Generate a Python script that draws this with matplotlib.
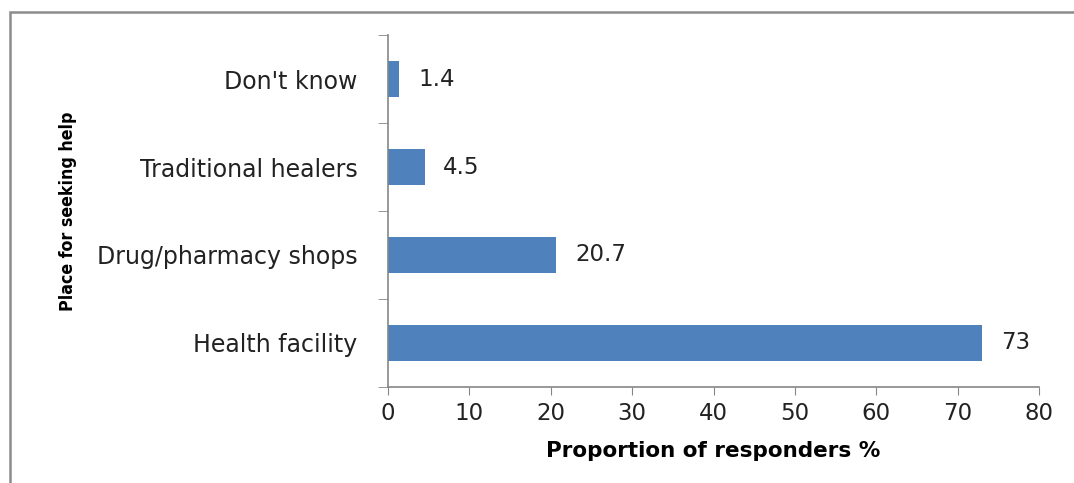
import matplotlib.pyplot as plt
from matplotlib.patches import Rectangle

places = ["Health facility", "Drug/pharmacy shops", "Traditional healers", "Don't know"]
share = [73, 20.7, 4.5, 1.4]
share_labels = ["73", "20.7", "4.5", "1.4"]
x_ticks = [0, 10, 20, 30, 40, 50, 60, 70, 80]

plt.rcParams['font.family'] = ['DejaVu Sans']

fig = plt.figure(figsize=(10.74, 4.83), dpi=100)
fig.patches.append(Rectangle((0.009, -0.05), 1.05, 1.025, transform=fig.transFigure,
                             fill=False, edgecolor="#8c8c8c", linewidth=1.8))
ax = fig.add_axes([0.3613, 0.1988, 0.6061, 0.7287])

y = list(range(len(places)))
ax.barh(y, share, height=0.4, color="#4f81bd")
for yi, v, lab in zip(y, share, share_labels):
    ax.text(v + 2.3, yi, lab, va="center", ha="left", fontsize=16.5, color="#222222")

ax.set_xlim(0, 80)
ax.set_ylim(-0.5, 3.5)
ax.set_xticks(x_ticks)
ax.set_xticklabels([str(t) for t in x_ticks], fontsize=16.5, color="#222222")
ax.set_yticks(y)
ax.set_yticklabels(places, fontsize=17, color="#222222")
ax.set_yticks([-0.5, 0.5, 1.5, 2.5, 3.5], minor=True)
ax.tick_params(axis="y", which="major", length=0, pad=22)
ax.tick_params(axis="y", which="minor", length=7, color="#868686", direction="out")
ax.tick_params(axis="x", length=6, color="#868686", direction="out", pad=5)

for s in ["top", "right"]:
    ax.spines[s].set_visible(False)
for s in ["left", "bottom"]:
    ax.spines[s].set_color("#868686")
    ax.spines[s].set_linewidth(1.2)

ax.set_xlabel("Proportion of responders %", fontsize=15.5, fontweight="bold", labelpad=11)
fig.text(0.063, 0.563, "Place for seeking help", rotation=90, va="center", ha="center",
         fontsize=12.8, fontweight="bold", fontstretch="condensed")

fig.savefig("out.png", dpi=100)
